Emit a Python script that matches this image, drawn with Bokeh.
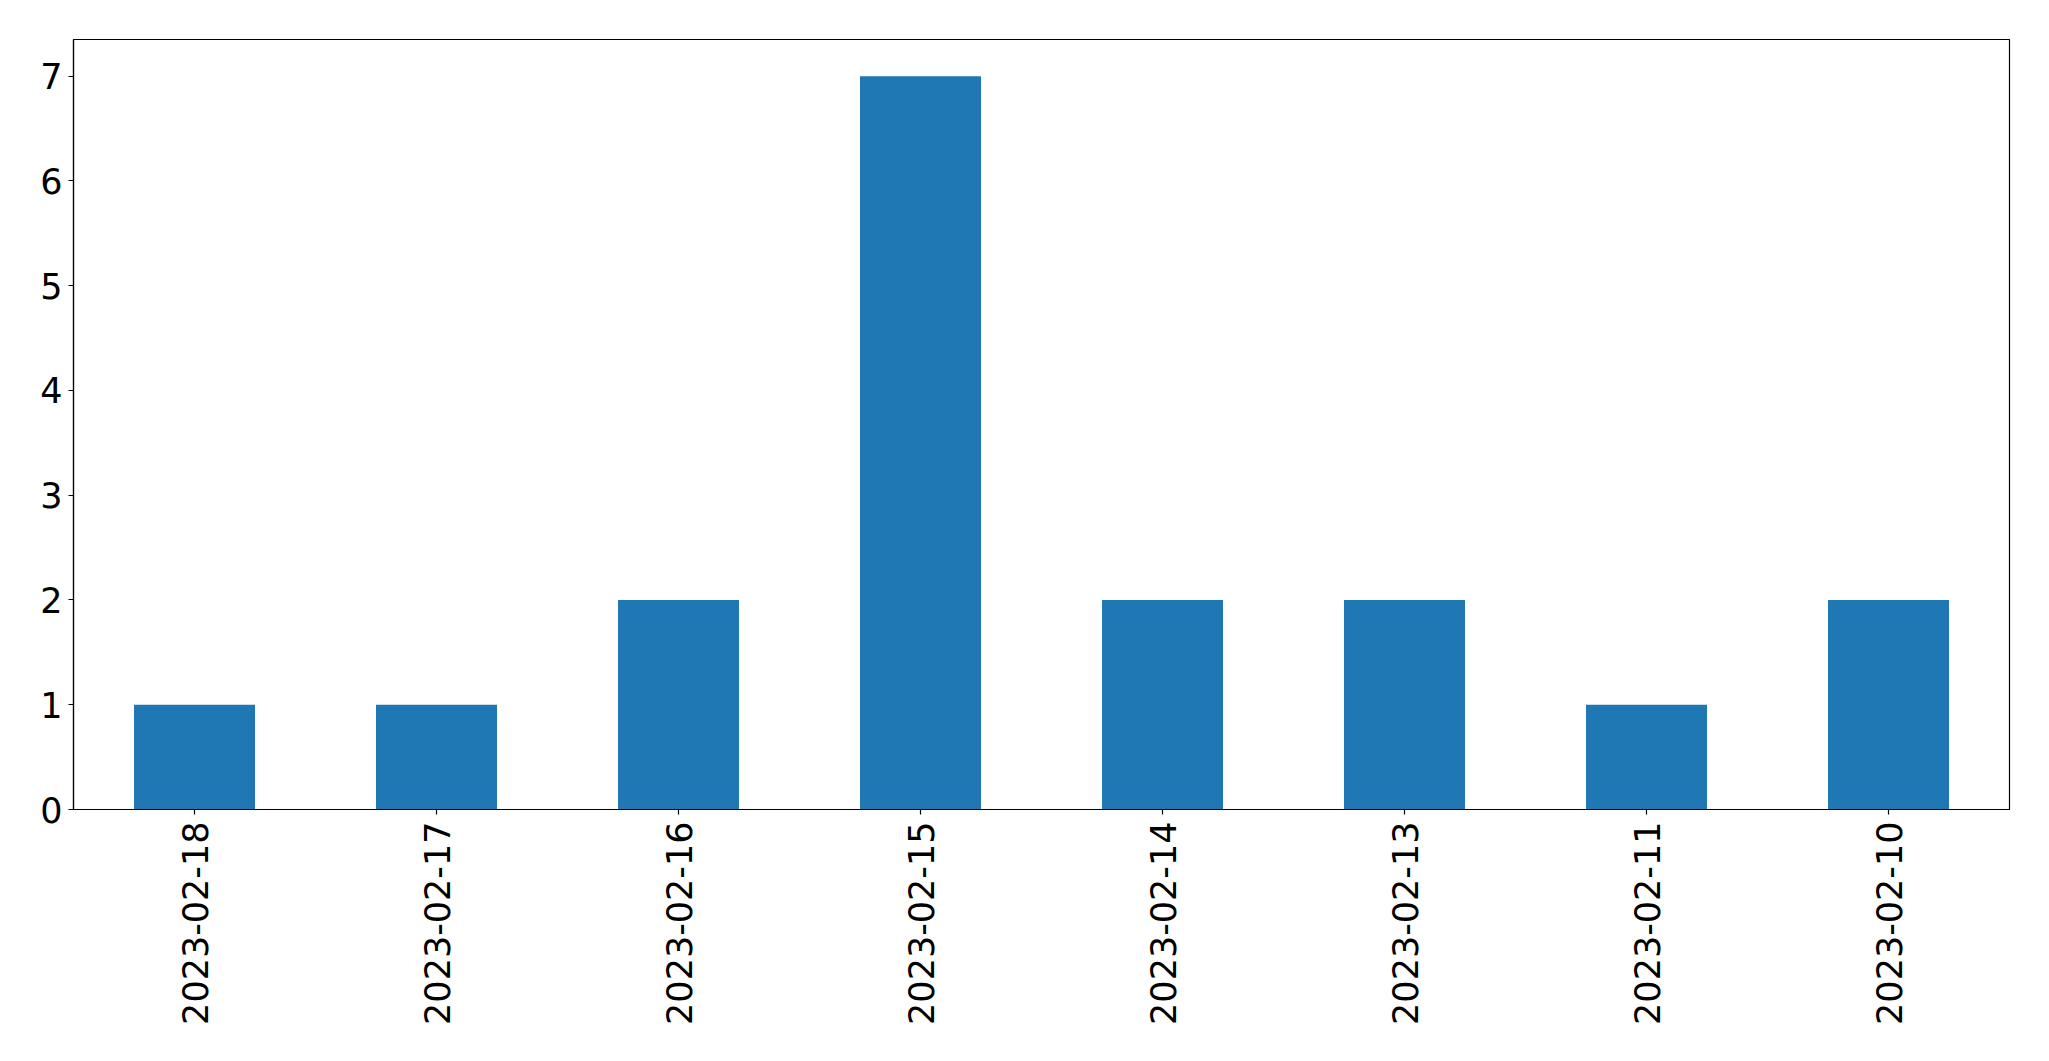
import math
from bokeh.plotting import figure
from bokeh.models import ColumnDataSource, Range1d, FactorRange, FixedTicker
from bokeh.embed import file_html
from bokeh.resources import INLINE

dates = ["2023-02-18", "2023-02-17", "2023-02-16", "2023-02-15",
         "2023-02-14", "2023-02-13", "2023-02-11", "2023-02-10"]
counts = [1, 1, 2, 7, 2, 2, 1, 2]
y_ticks = [0, 1, 2, 3, 4, 5, 6, 7]

source = ColumnDataSource(data=dict(dates=dates, counts=counts))

W, H = 2030, 1040
p = figure(width=W, height=H, output_backend="svg", toolbar_location=None,
           x_range=FactorRange(factors=dates, range_padding=0),
           y_range=Range1d(0, 7.35))
p.min_border_left = 73
p.min_border_top = 39
p.min_border_right = W - 2009
p.min_border_bottom = H - 809

p.vbar(x="dates", top="counts", width=0.5, source=source,
       fill_color="#1f77b4", line_color=None)

p.xgrid.visible = False
p.ygrid.visible = False
p.outline_line_color = "black"
p.outline_line_width = 1.2
p.outline_line_alpha = 1.0

font = "DejaVu Sans"
for ax in (p.xaxis[0], p.yaxis[0]):
    ax.axis_line_color = "black"
    ax.axis_line_width = 1.2
    ax.major_tick_line_color = "black"
    ax.major_tick_line_width = 1.2
    ax.major_tick_out = 5
    ax.major_tick_in = 0
    ax.minor_tick_line_color = None
    ax.major_label_text_font = font
    ax.major_label_text_font_size = "35px"
    ax.major_label_text_color = "black"

p.yaxis[0].ticker = FixedTicker(ticks=y_ticks)
p.yaxis[0].major_label_standoff = 6
p.xaxis[0].major_label_orientation = math.pi / 2
p.xaxis[0].major_label_standoff = 7
p.xaxis[0].group_text_font_size = "0px"

open("out.html", "w").write(file_html(p, INLINE))
